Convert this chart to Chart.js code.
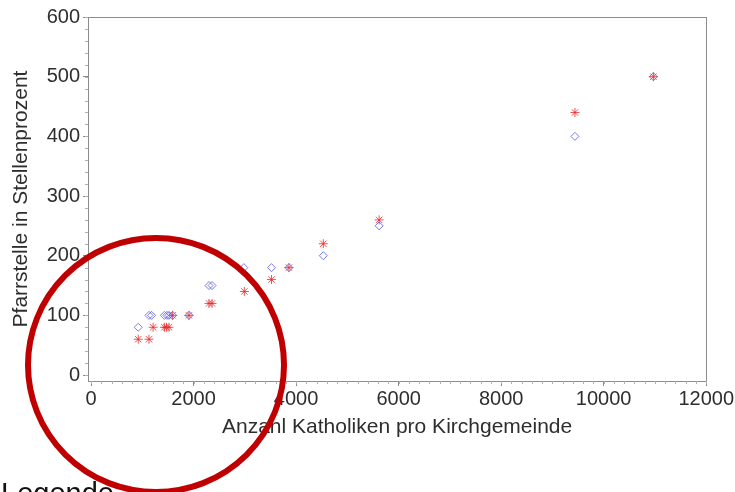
<!DOCTYPE html>
<html><head><meta charset="utf-8">
<script src="https://cdn.jsdelivr.net/npm/chart.js@4"></script>
<style>html,body{margin:0;padding:0;background:#fff}#wrap{width:735px;height:492px}</style>
</head><body><div id="wrap"><canvas id="c" width="735" height="492"></canvas></div>
<script>
// Blue diamonds
const blueX = [920,1130,1180,1430,1480,1520,1590,1910,2300,2360,2980,3520,3860,4530,5620,9440,10970];
const blueY = [80,100,100,100,100,100,100,100,150,150,180,180,180,200,250,400,500];
// Red asterisks
const redX = [920,1130,1210,1430,1470,1520,1590,1910,2300,2360,2990,3520,3860,4530,5620,9440,10970];
const redY = [60,60,80,80,80,80,100,100,120,120,140,160,180,220,260,440,500];
const xTicks = [0,2000,4000,6000,8000,10000,12000];
const yTicks = [0,100,200,300,400,500,600];
const xTitle = 'Anzahl Katholiken pro Kirchgemeinde';
const yTitle = 'Pfarrstelle in Stellenprozent';
const legendText = 'Legende';

const FONT = '"Liberation Sans", Arial, sans-serif';
const TXT = '#2e2e2e';
const FRAME = '#8c8c8c';

const toPts = (xs, ys) => xs.map((x, i) => ({x, y: ys[i]}));

const extras = {
  id: 'extras',
  afterDatasetsDraw(chart) {
    const {ctx, chartArea: a, scales} = chart;
    ctx.save();
    ctx.strokeStyle = FRAME;
    ctx.lineWidth = 1;
    ctx.strokeRect(Math.round(a.left) + 0.5, Math.round(a.top) + 0.5, Math.round(a.right - a.left), Math.round(a.bottom - a.top));
    // minor ticks
    ctx.strokeStyle = '#b0b0b0';
    ctx.beginPath();
    for (let v = 0; v <= 12000; v += 200) {
      const px = Math.round(scales.x.getPixelForValue(v)) + 0.5;
      ctx.moveTo(px, a.bottom); ctx.lineTo(px, a.bottom + 3);
    }
    for (let v = 0; v <= 600; v += 20) {
      const py = Math.round(scales.y.getPixelForValue(v)) + 0.5;
      ctx.moveTo(a.left, py); ctx.lineTo(a.left - 3, py);
    }
    ctx.stroke();
    ctx.restore();
  },
  afterDraw(chart) {
    const {ctx} = chart;
    ctx.save();
    ctx.fillStyle = '#111';
    ctx.font = '29px ' + FONT;
    ctx.textBaseline = 'alphabetic';
    ctx.fillText(legendText, 1, 503);
    // red highlight circle annotation
    ctx.strokeStyle = '#c00000';
    ctx.lineWidth = 6;
    ctx.beginPath();
    ctx.ellipse(156, 365, 128, 127, 0, 0, Math.PI * 2);
    ctx.stroke();
    ctx.restore();
  }
};

new Chart(document.getElementById('c'), {
  type: 'scatter',
  data: {
    datasets: [
      {
        label: 'Ist',
        data: toPts(blueX, blueY),
        pointStyle: 'rectRot',
        radius: 4,
        borderWidth: 1,
        borderColor: 'rgba(90,90,235,0.8)',
        backgroundColor: 'rgba(0,0,0,0)'
      },
      {
        label: 'Soll',
        data: toPts(redX, redY),
        pointStyle: 'star',
        radius: 4.5,
        borderWidth: 1,
        borderColor: 'rgba(235,40,40,0.8)',
        backgroundColor: 'rgba(0,0,0,0)'
      }
    ]
  },
  options: {
    responsive: false,
    animation: false,
    layout: {padding: {top: 17, right: 27, left: 0, bottom: 52}},
    plugins: {legend: {display: false}, tooltip: {enabled: false}},
    scales: {
      x: {
        type: 'linear', min: -60, max: 12000,
        afterBuildTicks: s => { s.ticks = xTicks.map(v => ({value: v})); },
        afterFit: s => { s.height = 59; },
        grid: {drawOnChartArea: false, drawTicks: true, tickLength: 5, color: FRAME},
        border: {display: true, color: FRAME},
        ticks: {color: TXT, font: {family: FONT, size: 20}, padding: 1, maxRotation: 0, callback: v => String(v)},
        title: {display: true, text: xTitle, color: TXT, font: {family: FONT, size: 21}, padding: 0}
      },
      y: {
        type: 'linear', min: -10, max: 600,
        afterBuildTicks: s => { s.ticks = yTicks.map(v => ({value: v})); },
        afterFit: s => { s.width = 88; },
        grid: {drawOnChartArea: false, drawTicks: true, tickLength: 5, color: FRAME},
        border: {display: true, color: FRAME},
        ticks: {color: TXT, font: {family: FONT, size: 20}, padding: 3, callback: v => String(v)},
        title: {display: true, text: yTitle, color: TXT, font: {family: FONT, size: 21}, padding: {top: 9, bottom: 0}}
      }
    }
  },
  plugins: [extras]
});
</script></body></html>
